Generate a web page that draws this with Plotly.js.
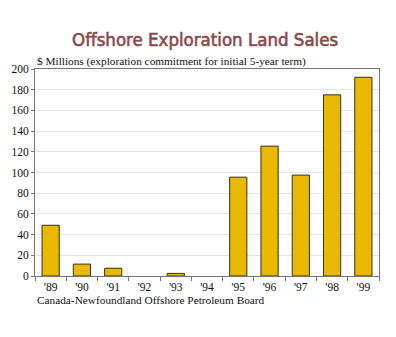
<!DOCTYPE html>
<html><head><meta charset="utf-8">
<script src="https://cdn.plot.ly/plotly-3.0.1.min.js"></script>
<style>html,body{margin:0;padding:0;background:#fff}#c{width:396px;height:337px}
.gtitle{font-stretch:condensed !important; stroke:#8B4A4C; stroke-width:0.6px}</style>
</head><body><div id="c"></div>
<script>
const years = ["'89","'90","'91","'92","'93","'94","'95","'96","'97","'98","'99"];
const sales = [49, 11.5, 7.5, 0, 2.5, 0, 95.5, 125.5, 97.5, 175, 192];
const yTicks = [0,20,40,60,80,100,120,140,160,180,200];

const serif = "Liberation Serif, Times New Roman, serif";
Plotly.newPlot('c', [{
  type: 'bar', x: years, y: sales, width: 0.55,
  marker: {color: '#E9B800', line: {color: '#3a3020', width: sales.map(v => v > 0 ? 1 : 0)}},
  hoverinfo: 'skip'
}], {
  width: 396, height: 337,
  margin: {l: 35, r: 17, t: 69, b: 61},
  paper_bgcolor: '#fff', plot_bgcolor: '#fff',
  showlegend: false, bargap: 0.45,
  title: {text: 'Offshore Exploration Land Sales', x: 0.518, xanchor: 'center', y: 0.882, yanchor: 'middle',
          font: {family: 'DejaVu Sans Condensed, DejaVu Sans, sans-serif', size: 18.5, color: '#8B4A4C'}},
  xaxis: {type: 'category', showline: true, linecolor: '#777', linewidth: 1, mirror: true,
          ticks: 'outside', ticklen: 4, tickcolor: '#777', tickson: 'boundaries',
          tickfont: {family: serif, size: 11.5, color: '#111'}, showgrid: false},
  yaxis: {range: [0, 200], tickvals: yTicks, showline: true, linecolor: '#777', linewidth: 1, mirror: true,
          ticks: 'outside', ticklen: 3, tickcolor: '#777', gridcolor: '#e6e6e6', zeroline: false,
          tickfont: {family: serif, size: 11.5, color: '#111'}},
  annotations: [
    {text: '$ Millions (exploration commitment for initial 5-year term)', xref: 'paper', yref: 'paper',
     x: 0, y: 1, xanchor: 'left', yanchor: 'bottom', yshift: -1, showarrow: false,
     font: {family: serif, size: 11.3, color: '#111'}},
    {text: 'Canada-Newfoundland Offshore Petroleum Board', xref: 'paper', yref: 'paper',
     x: 0, y: 0, xanchor: 'left', yanchor: 'top', yshift: -16, showarrow: false,
     font: {family: serif, size: 11.3, color: '#111'}}
  ]
}, {displayModeBar: false, staticPlot: true});
</script></body></html>
